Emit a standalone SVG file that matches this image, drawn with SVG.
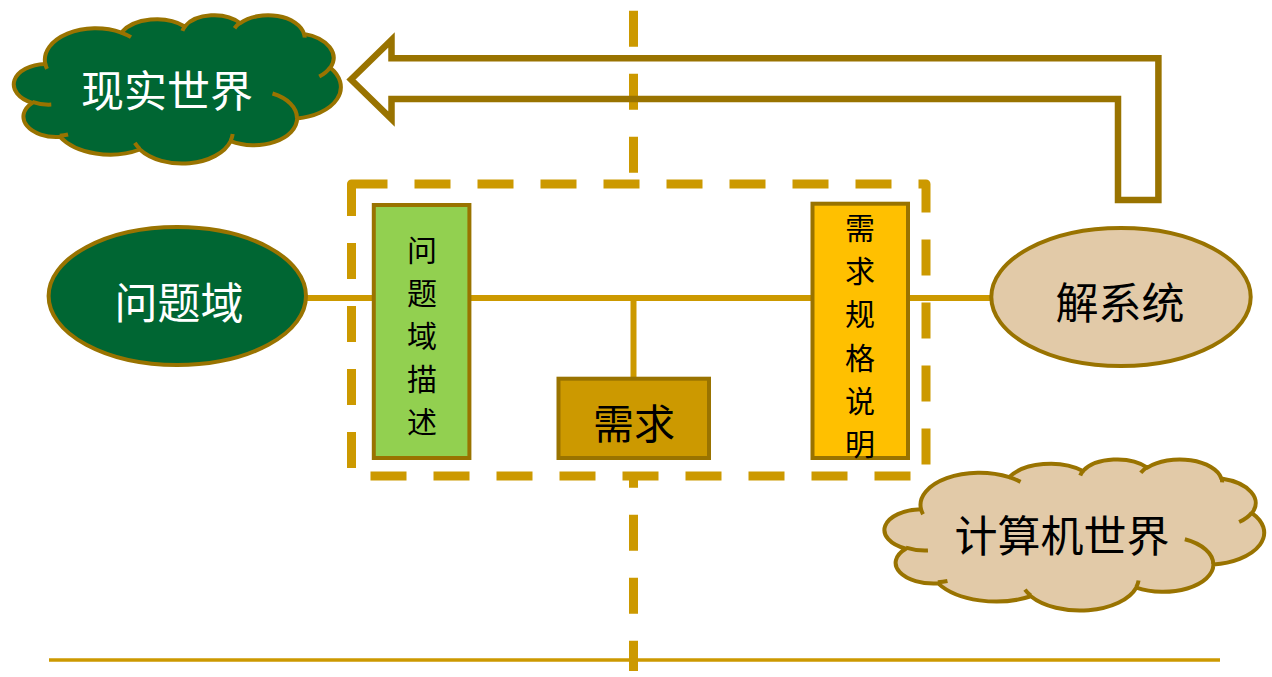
<svg xmlns="http://www.w3.org/2000/svg" width="1272" height="677" viewBox="0 0 1272 677">
<style>
.lbl{font-family:"Noto Sans CJK SC","Noto Sans CJK JP",sans-serif;dominant-baseline:central;text-anchor:middle}
.w{fill:#FFFFFF}
.k{fill:#000000}
.edge{stroke:#997300;stroke-width:4}
.cloud{stroke:#997300;stroke-width:4;vector-effect:non-scaling-stroke;stroke-linejoin:round}
.det{fill:none;stroke:#997300;stroke-width:4;vector-effect:non-scaling-stroke}
.conn{stroke:#CC9900;stroke-width:6;fill:none}
.dash{stroke:#CC9900;stroke-width:9;stroke-dasharray:36 27;fill:none}
</style>
<rect x="0" y="0" width="1272" height="677" fill="#FFFFFF"/>
<g id="connectors">
  <line class="dash" x1="633.5" y1="10.8" x2="633.5" y2="671"/>
  <line x1="49" y1="660" x2="1220" y2="660" stroke="#CC9900" stroke-width="3.5"/>
  <path class="dash" d="M351.5,184 H926 V476 H351.5 Z" style="fill:#FFFFFF;stroke-linejoin:round"/>
  <path d="M351,79.5 L391.5,40 L391.5,58.3 L1158.4,58.3 L1158.4,200 L1118,200 L1118,99 L391.5,99 L391.5,119 Z" fill="none" stroke="#997300" stroke-width="6.5" stroke-linejoin="miter"/>
  <line class="conn" x1="306" y1="298" x2="992" y2="298"/>
  <line class="conn" x1="633.5" y1="298" x2="633.5" y2="379"/>
</g>
<g id="realworld">
  <path class="cloud" fill="#006633" transform="translate(16,14.7) scale(0.0075162,0.0034329)" d="M3900,14370 A6753,9190 0 0 1 14006,5203 A5333,7267 0 0 1 22457,3433 A4365,5945 0 0 1 29834,2482 A4857,6595 0 0 1 38319,5578 A5333,7273 0 0 1 41820,15462 A6775,9220 0 0 1 37406,30205 A5785,7867 0 0 1 28558,36816 A6752,9215 0 0 1 16482,39267 A7720,10543 0 0 1 5856,35588 A4360,5918 0 0 1 2164,25667 A4345,5945 0 0 1 3900,14370 Z"/>
  <path class="det" transform="translate(16,14.7) scale(0.0075162,0.0034329)" d="M4693,26177 A4345,5945 0 0 1 2160,25380 M6928,34899 A4360,5918 0 0 1 5819,35281 M16478,39090 A6752,9215 0 0 1 15810,37350 M28827,34751 A6752,9215 0 0 1 28560,36660 M34129,22954 A5785,7867 0 0 1 37380,30090 M41798,15354 A5333,7273 0 0 1 40349,18031 M38324,5426 A4857,6595 0 0 1 38400,6690 M29078,3952 A4857,6595 0 0 1 29820,2340 M22141,4720 A4365,5945 0 0 1 22500,3330 M14000,5192 A6753,9190 0 0 1 15300,6540 M4127,15789 A6753,9190 0 0 1 3900,14371"/>
  <text class="lbl w" x="167" y="88" font-size="43">现实世界</text>
</g>
<g id="problemdomain">
  <ellipse class="edge" cx="177.3" cy="296" rx="128.7" ry="69" fill="#006633"/>
  <text class="lbl w" x="179" y="300" font-size="43">问题域</text>
</g>
<g id="solution">
  <ellipse class="edge" cx="1121" cy="297" rx="129.7" ry="69" fill="#E2CAA8"/>
  <text class="lbl k" x="1120" y="300" font-size="43">解系统</text>
</g>
<g id="pdesc">
  <rect class="edge" x="373.8" y="205" width="95.6" height="253" fill="#92D050"/>
  <text class="lbl k" x="422" y="248" font-size="30">问</text>
  <text class="lbl k" x="422" y="291" font-size="30">题</text>
  <text class="lbl k" x="422" y="334" font-size="30">域</text>
  <text class="lbl k" x="422" y="377" font-size="30">描</text>
  <text class="lbl k" x="422" y="420" font-size="30">述</text>
</g>
<g id="spec">
  <rect class="edge" x="812.5" y="203.7" width="95.5" height="254.3" fill="#FFC000"/>
  <text class="lbl k" x="860" y="226" font-size="30">需</text>
  <text class="lbl k" x="860" y="269" font-size="30">求</text>
  <text class="lbl k" x="860" y="312" font-size="30">规</text>
  <text class="lbl k" x="860" y="356" font-size="30">格</text>
  <text class="lbl k" x="860" y="399" font-size="30">说</text>
  <text class="lbl k" x="860" y="442" font-size="30">明</text>
</g>
<g id="req">
  <rect class="edge" x="558.5" y="378.7" width="150.5" height="79.3" fill="#CC9900"/>
  <text class="lbl k" x="634" y="421" font-size="41">需求</text>
</g>
<g id="compworld">
  <path class="cloud" fill="#E2CAA8" transform="translate(887,459) scale(0.0087269,0.0034954)" d="M3900,14370 A6753,9190 0 0 1 14006,5203 A5333,7267 0 0 1 22457,3433 A4365,5945 0 0 1 29834,2482 A4857,6595 0 0 1 38319,5578 A5333,7273 0 0 1 41820,15462 A6775,9220 0 0 1 37406,30205 A5785,7867 0 0 1 28558,36816 A6752,9215 0 0 1 16482,39267 A7720,10543 0 0 1 5856,35588 A4360,5918 0 0 1 2164,25667 A4345,5945 0 0 1 3900,14370 Z"/>
  <path class="det" transform="translate(887,459) scale(0.0087269,0.0034954)" d="M4693,26177 A4345,5945 0 0 1 2160,25380 M6928,34899 A4360,5918 0 0 1 5819,35281 M16478,39090 A6752,9215 0 0 1 15810,37350 M28827,34751 A6752,9215 0 0 1 28560,36660 M34129,22954 A5785,7867 0 0 1 37380,30090 M41798,15354 A5333,7273 0 0 1 40349,18031 M38324,5426 A4857,6595 0 0 1 38400,6690 M29078,3952 A4857,6595 0 0 1 29820,2340 M22141,4720 A4365,5945 0 0 1 22500,3330 M14000,5192 A6753,9190 0 0 1 15300,6540 M4127,15789 A6753,9190 0 0 1 3900,14371"/>
  <text class="lbl k" x="1062" y="533" font-size="43">计算机世界</text>
</g>
</svg>
